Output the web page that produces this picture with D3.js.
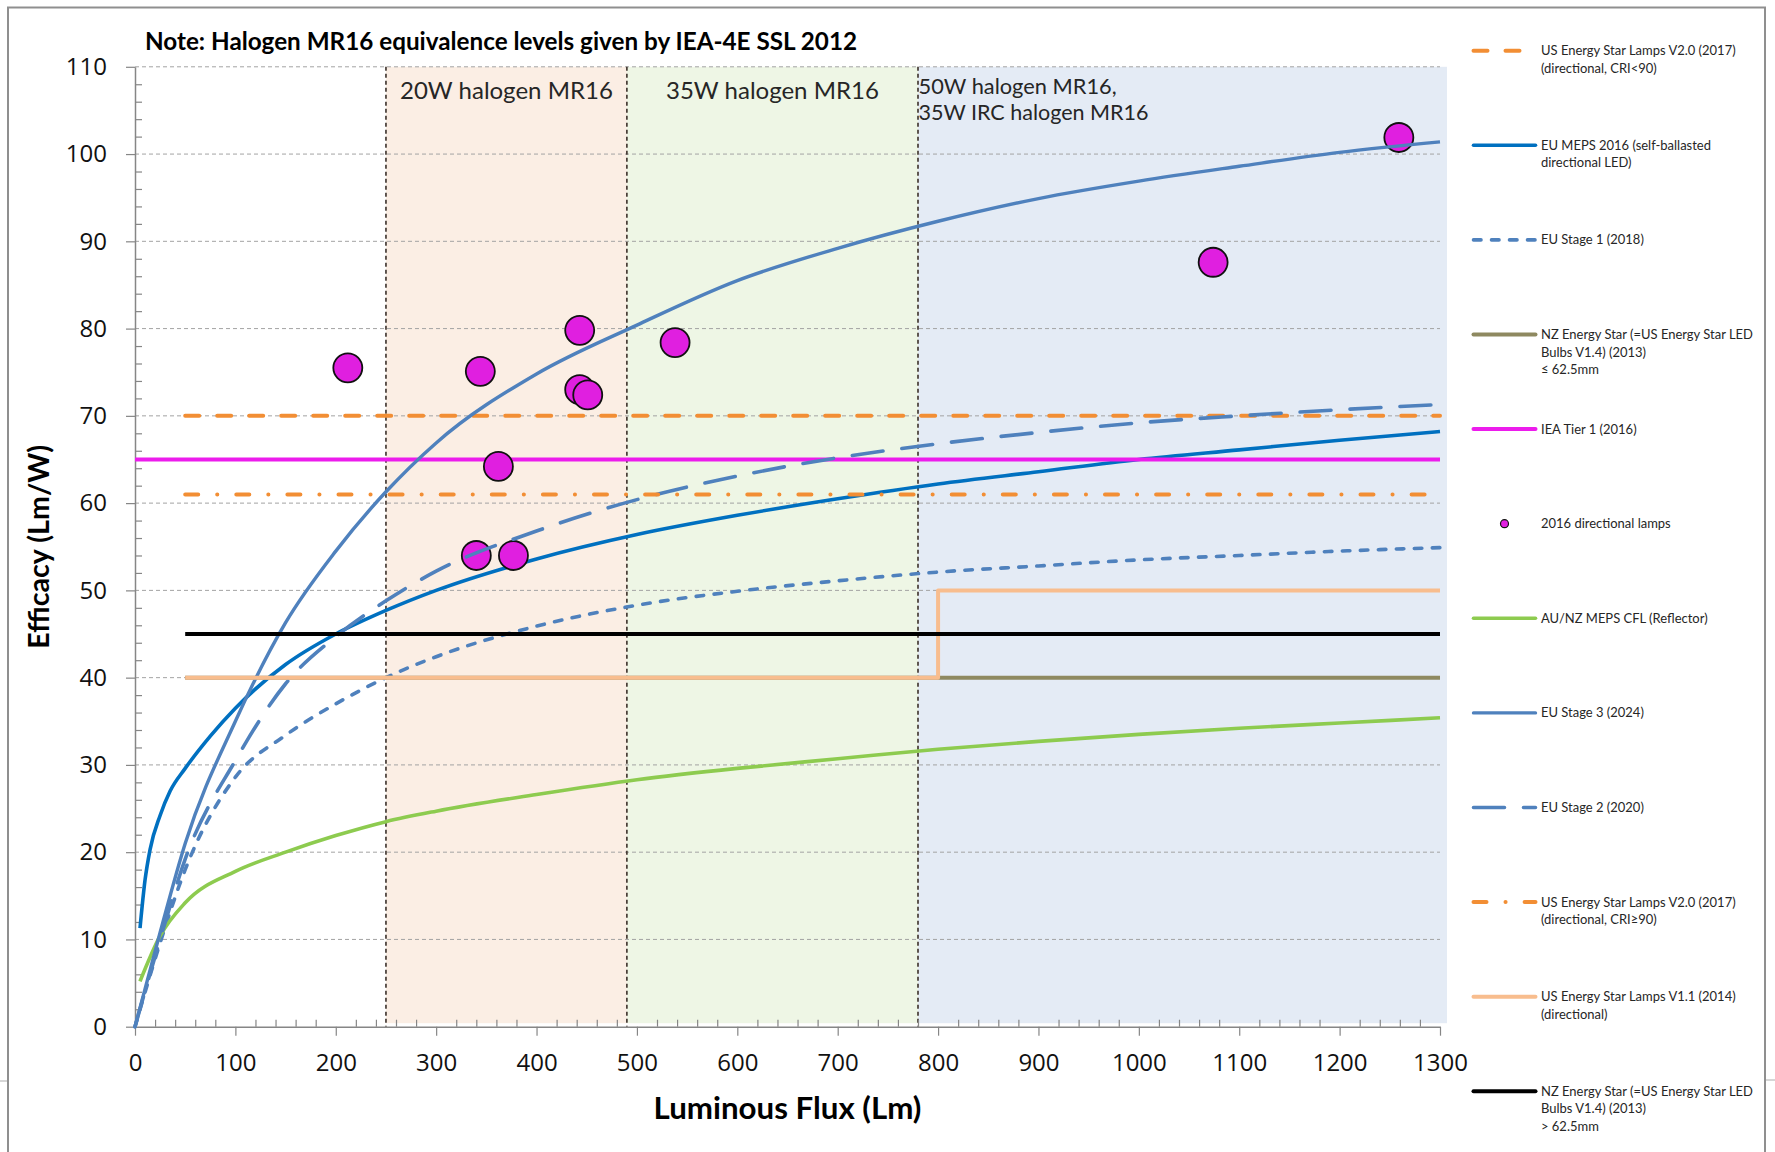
<!DOCTYPE html>
<html><head><meta charset="utf-8">
<script src="https://cdn.jsdelivr.net/npm/d3@7"></script>
<style>body{margin:0;background:#fff;} svg{display:block;}</style>
</head><body>
<svg id="chart" width="1775" height="1152"></svg>
<script>
// ---------------- DATA ----------------
const fluxMeps  = [5,10,15,25,35,50,75,100,150,200,250,300,400,500,600,700,800,900,1000,1100,1200,1300];
const euMeps2016 = [11.3,16.8,20.3,24.2,27.0,29.6,33.3,36.5,41.5,45.0,47.7,50.0,53.6,56.4,58.6,60.5,62.2,63.6,65.0,66.1,67.2,68.2];
const fluxFrom5 = [5,25,50,100,150,200,250,300,400,500,600,700,800,900,1000,1100,1200,1300];
const auNzCfl    = [5.2,10.4,14.2,17.8,20.0,21.9,23.5,24.7,26.6,28.3,29.6,30.7,31.8,32.7,33.5,34.2,34.8,35.4];
const fluxFrom0 = [0,25,50,100,150,200,250,300,400,500,600,700,800,900,1000,1100,1200,1300];
const euStage1   = [0,9.6,18.0,28.6,33.4,37.0,40.0,42.4,45.9,48.3,49.9,51.1,52.1,52.8,53.5,54.0,54.5,54.9];
const euStage2   = [0,10.0,19.2,30.5,39.3,44.7,48.8,52.2,56.8,60.4,63.1,65.2,66.8,68.1,69.2,70.0,70.7,71.3];
const euStage3   = [0,10.8,21.0,35.0,46.3,54.5,61.3,66.9,74.8,80.4,85.5,89.2,92.3,94.9,96.9,98.6,100.2,101.4];

const esV20LowCriFlux = [50,1300];  const esV20LowCri = [70,70];
const esV20HighCriFlux = [50,1300]; const esV20HighCri = [61,61];
const ieaTier1Flux = [0,1300];      const ieaTier1 = [65,65];
const nzEsSmallFlux = [50,1300];    const nzEsSmall = [40,40];
const nzEsLargeFlux = [50,1300];    const nzEsLarge = [45,45];
const esV11Flux = [50,800,800,1300]; const esV11 = [40,40,50,50];

const lampFlux = [212,340,344,362,377,443,443,451,538,1074,1259];
const lampEff  = [75.5,54.0,75.1,64.2,54.0,79.8,73.0,72.4,78.4,87.6,101.9];

const bandStart = [250,490,780];
const bandEnd   = [490,780,1307];
const bandLabels = [["20W halogen MR16"],["35W halogen MR16"],["50W halogen MR16,","35W IRC halogen MR16"]];

const yTicks = [0,10,20,30,40,50,60,70,80,90,100,110];
const xTicks = [0,100,200,300,400,500,600,700,800,900,1000,1100,1200,1300];

const seriesNames = [
 ["US Energy Star Lamps V2.0 (2017)","(directional, CRI<90)"],
 ["EU MEPS 2016 (self-ballasted","directional LED)"],
 ["EU Stage 1 (2018)"],
 ["NZ Energy Star (=US Energy Star LED","Bulbs V1.4) (2013)","\u2264 62.5mm"],
 ["IEA Tier 1 (2016)"],
 ["2016 directional lamps"],
 ["AU/NZ MEPS CFL (Reflector)"],
 ["EU Stage 3 (2024)"],
 ["EU Stage 2 (2020)"],
 ["US Energy Star Lamps V2.0 (2017)","(directional, CRI\u226590)"],
 ["US Energy Star Lamps V1.1 (2014)","(directional)"],
 ["NZ Energy Star (=US Energy Star LED","Bulbs V1.4) (2013)","> 62.5mm"]
];

// ---------------- STYLES (not data) ----------------
const ORANGE="#F28E34", BLUE="#4F81BD", DBLUE="#0070C0", GREEN="#8DCB4F", OLIVE="#8E8960",
      PEACH="#F8BD8E", MAGENTA="#EC1CEC", BLACK="#000";
const styles = [
 {c:ORANGE, w:4, dash:"14,18"},
 {c:DBLUE, w:3.6, dash:null},
 {c:BLUE, w:3.6, dash:"7.5,10.5"},
 {c:OLIVE, w:4, dash:null},
 {c:MAGENTA, w:4, dash:null},
 {c:MAGENTA, dot:true},
 {c:GREEN, w:3.6, dash:null},
 {c:BLUE, w:3.4, dash:null},
 {c:BLUE, w:3.6, dash:"31,19"},
 {c:ORANGE, w:4, dash:"13,19,0.1,19"},
 {c:PEACH, w:4, dash:null},
 {c:BLACK, w:4, dash:null}
];
const seriesData = [
 {fx:esV20LowCriFlux, fy:esV20LowCri, smooth:false},
 {fx:fluxMeps, fy:euMeps2016, smooth:true},
 {fx:fluxFrom0, fy:euStage1, smooth:true},
 {fx:nzEsSmallFlux, fy:nzEsSmall, smooth:false},
 {fx:ieaTier1Flux, fy:ieaTier1, smooth:false},
 {fx:lampFlux, fy:lampEff, points:true},
 {fx:fluxFrom5, fy:auNzCfl, smooth:true},
 {fx:fluxFrom0, fy:euStage3, smooth:true},
 {fx:fluxFrom0, fy:euStage2, smooth:true},
 {fx:esV20HighCriFlux, fy:esV20HighCri, smooth:false},
 {fx:esV11Flux, fy:esV11, smooth:false},
 {fx:nzEsLargeFlux, fy:nzEsLarge, smooth:false}
];

// ---------------- CHART ----------------
const svg = d3.select("#chart");
const x = d3.scaleLinear().domain([0,1300]).range([135,1440]);
const y = d3.scaleLinear().domain([0,110]).range([1026.7,66.8]);

function fit(sel, target){
  const w = sel.node().getComputedTextLength();
  const fs = parseFloat(sel.attr("font-size"));
  if (w>0) sel.attr("font-size", (fs*target/w).toFixed(2));
  return fs*target/w;
}

// outer frame
const frame = svg.append("g").attr("stroke","#8f8f8f").attr("stroke-width",2).attr("fill","none");
frame.append("path").attr("d","M8,1152 V7.5 H1765 V1152");
svg.append("line").attr("x1",0).attr("x2",7).attr("y1",1081).attr("y2",1081).attr("stroke","#c8c8c8").attr("stroke-width",1.5);
svg.append("line").attr("x1",1766).attr("x2",1775).attr("y1",1080).attr("y2",1080).attr("stroke","#c8c8c8").attr("stroke-width",1.5);

// bands
const bandColors = ["#FBEEE4","#EEF6E5","#E4EBF5"];
svg.append("g").selectAll("rect").data(bandStart).join("rect")
  .attr("x", d=>x(d)).attr("width",(d,i)=>x(bandEnd[i])-x(d))
  .attr("y", y(110)).attr("height", y(0)-y(110)-3.5)
  .attr("fill",(d,i)=>bandColors[i]);

// gridlines
svg.append("g").selectAll("line").data(yTicks.filter(v=>v>0)).join("line")
  .attr("x1",x(0)).attr("x2",x(1300)).attr("y1",d=>y(d)).attr("y2",d=>y(d))
  .attr("stroke","#a3a3a3").attr("stroke-width",1).attr("stroke-dasharray","4,3");

// band dividers
svg.append("g").selectAll("line").data(bandStart).join("line")
  .attr("x1",d=>x(d)).attr("x2",d=>x(d)).attr("y1",y(110)).attr("y2",y(0))
  .attr("stroke","#3b302a").attr("stroke-width",1.6).attr("stroke-dasharray","4,3");

// axes
const axisColor = "#868686";
svg.append("g").attr("transform",`translate(${x(0)},0)`)
  .call(d3.axisLeft(y).tickValues(yTicks).tickSize(9).tickSizeOuter(0).tickPadding(19).tickFormat(d3.format("d")));
const yMinor = d3.range(0,111,2).filter(v=>v%10!==0);
svg.append("g").attr("transform",`translate(${x(0)},0)`)
  .call(d3.axisRight(y).tickValues(yMinor).tickSize(7).tickFormat(""))
  .call(g=>g.select(".domain").remove());
svg.append("g").attr("transform",`translate(0,${y(0)})`)
  .call(d3.axisBottom(x).tickValues(xTicks).tickSize(9).tickSizeOuter(0).tickPadding(18).tickFormat(d3.format("d")));
const xMinor = d3.range(0,1301,20).filter(v=>v%100!==0);
svg.append("g").attr("transform",`translate(0,${y(0)})`)
  .call(d3.axisTop(x).tickValues(xMinor).tickSize(7).tickFormat(""))
  .call(g=>g.select(".domain").remove());
svg.selectAll(".domain").attr("stroke",axisColor).attr("stroke-width",1.5);
svg.selectAll(".tick line").attr("stroke",axisColor).attr("stroke-width",1.2);
svg.selectAll(".tick text").attr("font-family","'Open Sans', 'Noto Sans', sans-serif")
   .attr("font-size",24).attr("fill","#111");

// series in legend order
seriesData.forEach((s,i)=>{
  const st = styles[i];
  const pts = s.fx.map((fx,k)=>[fx, s.fy[k]]);
  if (s.points){
    svg.append("g").selectAll("circle").data(pts).join("circle")
      .attr("cx",d=>x(d[0])).attr("cy",d=>y(d[1])).attr("r",14.5)
      .attr("fill","#E01FE0").attr("stroke","#111").attr("stroke-width",1.8);
    return;
  }
  const line = d3.line().x(d=>x(d[0])).y(d=>y(d[1]))
     .curve(s.smooth ? d3.curveMonotoneX : d3.curveLinear);
  svg.append("path").datum(pts).attr("d",line).attr("fill","none")
    .attr("stroke",st.c).attr("stroke-width",st.w)
    .attr("stroke-linecap", st.dash ? "round" : "butt")
    .attr("stroke-linejoin","round")
    .attr("stroke-dasharray", st.dash);
});

// band labels
const labelFont = "Lato, 'Open Sans', sans-serif";
const bl = svg.append("g").attr("font-family",labelFont).attr("fill","#262626");
const b1 = bl.append("text").attr("x",(x(bandStart[0])+x(bandEnd[0]))/2).attr("y",99)
  .attr("text-anchor","middle").attr("font-size",24).text(bandLabels[0][0]);
const fsBand = fit(b1, 213);
bl.append("text").attr("x",(x(bandStart[1])+x(bandEnd[1]))/2).attr("y",99)
  .attr("text-anchor","middle").attr("font-size",fsBand).text(bandLabels[1][0]);
const band3Widths = [198, 230];
bandLabels[2].forEach((t,k)=>{
  const tt = bl.append("text").attr("x",x(bandStart[2])+0.5).attr("y",94+k*26)
    .attr("font-size",fsBand).text(t);
  fit(tt, band3Widths[k]);
});

// title
const title = svg.append("text").attr("x",145).attr("y",50).attr("font-family",labelFont)
  .attr("font-weight",700).attr("font-size",22).attr("fill","#000")
  .text("Note: Halogen MR16 equivalence levels given by IEA-4E SSL 2012");
fit(title, 712);

// axis titles
const xt = svg.append("text").attr("x",(x(0)+x(1300))/2).attr("y",1119).attr("text-anchor","middle")
  .attr("font-family",labelFont).attr("font-weight",700).attr("font-size",26).attr("fill","#000")
  .text("Luminous Flux (Lm)");
fit(xt, 268);
const yt = svg.append("text").attr("transform",`translate(49,${(y(0)+y(110))/2}) rotate(-90)`)
  .attr("text-anchor","middle").attr("font-family",labelFont).attr("font-weight",700)
  .attr("font-size",26).attr("fill","#000").text("Efficacy (Lm/W)");
fit(yt, 204);

// legend
const lg = svg.append("g").attr("font-family",labelFont).attr("fill","#262626");
const probe = lg.append("text").attr("font-size",14).text(seriesNames[3][0]);
const fsLeg = 14*212/probe.node().getComputedTextLength();
probe.remove();
seriesNames.forEach((lines,i)=>{
  const cy = 50.7 + i*94.6;
  const st = styles[i];
  if (st.dot){
    lg.append("circle").attr("cx",1504.5).attr("cy",cy).attr("r",4)
      .attr("fill","#E01FE0").attr("stroke","#111").attr("stroke-width",1.2);
  } else {
    lg.append("line").attr("x1",1473.5).attr("x2",1535.5).attr("y1",cy).attr("y2",cy)
      .attr("stroke",st.c).attr("stroke-width",st.w)
      .attr("stroke-linecap","round").attr("stroke-dasharray",st.dash);
  }
  lines.forEach((t,k)=>{
    lg.append("text").attr("x",1541).attr("y",cy+k*17.5).attr("dy","0.35em")
      .attr("font-size",fsLeg).text(t);
  });
});
</script>
</body></html>
